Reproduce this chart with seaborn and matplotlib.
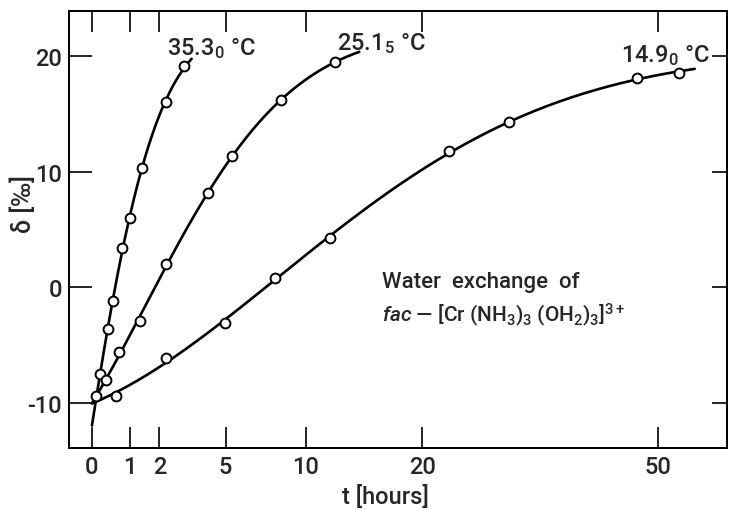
import numpy as np
import pandas as pd
import matplotlib
matplotlib.use("Agg")
import matplotlib.pyplot as plt
import seaborn as sns

# ---- data ----
t_353 = [0.09, 0.19, 0.38, 0.50, 0.75, 0.99, 1.38, 2.25, 2.99]
d_353 = [-9.4, -7.5, -3.6, -1.2, 3.4, 6.0, 10.3, 16.0, 19.1]
t_251 = [0.34, 0.68, 1.31, 2.25, 4.11, 5.35, 8.33, 12.24]
d_251 = [-8.0, -5.6, -2.9, 2.0, 8.2, 11.4, 16.2, 19.5]
t_149 = [0.58, 2.27, 4.99, 7.94, 11.85, 22.7, 29.55, 46.7, 53.2]
d_149 = [-9.4, -6.1, -3.1, 0.8, 4.3, 11.8, 14.3, 18.1, 18.5]
series_names = ["35.3", "25.1", "14.9"]
curve_start_t = [0.0, 0.0, 0.0]
curve_start_d = [-12.0, -10.0, -10.0]
curve_end_t = [3.33, 14.2, 55.8]
x_ticks = [0, 1, 2, 5, 10, 20, 50]
y_ticks = [-10, 0, 10, 20]

sns.set_theme(style="ticks")
plt.rcParams["font.family"] = ["Roboto", "DejaVu Sans"]
plt.rcParams["font.weight"] = "medium"
plt.rcParams["mathtext.fontset"] = "custom"
plt.rcParams["mathtext.rm"] = "Roboto:medium"
plt.rcParams["mathtext.it"] = "Roboto:italic"
plt.rcParams["mathtext.bf"] = "Roboto:bold"


def fwd(t):
    return np.sqrt(np.clip(np.asarray(t, dtype=float) + 1.0, 0.0, None))


def inv(u):
    return np.asarray(u, dtype=float) ** 2 - 1.0


fig = plt.figure(figsize=(7.29, 5.10), dpi=100)
ax = fig.add_axes([69 / 729, 1 - 449 / 510, (727 - 69) / 729, (449 - 12) / 510])
ax.set_xscale("function", functions=(fwd, inv))
ax.set_xlim(-0.436, 61.2)
ax.set_ylim(-13.9, 23.9)

pts = pd.concat([
    pd.DataFrame({"t": t_353, "d": d_353, "s": series_names[0]}),
    pd.DataFrame({"t": t_251, "d": d_251, "s": series_names[1]}),
    pd.DataFrame({"t": t_149, "d": d_149, "s": series_names[2]}),
], ignore_index=True)

# first-order exchange fit  d = a - b*exp(-k t), anchored at the start point
curves = []
for name, t0, d0, t1 in zip(series_names, curve_start_t, curve_start_d, curve_end_t):
    sub = pts[pts["s"] == name]
    tt = np.concatenate([[t0] * 3, sub["t"].values])
    dd = np.concatenate([[d0] * 3, sub["d"].values])
    best = None
    for k in np.linspace(0.005, 3.0, 3000):
        A = np.column_stack([np.ones_like(tt), np.exp(-k * tt)])
        coef, *_ = np.linalg.lstsq(A, dd, rcond=None)
        err = np.sum((A @ coef - dd) ** 2)
        if best is None or err < best[0]:
            best = (err, k, coef)
    _, k, coef = best
    uu = np.linspace(fwd(t0), fwd(t1), 200)
    tc = inv(uu)
    curves.append(pd.DataFrame({"t": tc, "d": coef[0] + coef[1] * np.exp(-k * tc), "s": name}))
curves = pd.concat(curves, ignore_index=True)

sns.lineplot(data=curves, x="t", y="d", units="s", estimator=None, sort=False,
             color="black", lw=1.9, ax=ax, legend=False)
sns.scatterplot(data=pts, x="t", y="d", marker="o", s=50, color="white",
                edgecolor="black", linewidth=1.4, ax=ax, legend=False, zorder=5)

ax.set_xticks(x_ticks)
ax.set_xticklabels([str(v) for v in x_ticks])
ax.set_yticks(y_ticks)
ax.set_yticklabels([str(v) for v in y_ticks])
ax.minorticks_off()
ax.tick_params(axis="x", direction="in", length=15, width=1.2, top=True, bottom=True,
               labelsize=17, pad=5, color="black")
ax.tick_params(axis="y", direction="in", length=16.5, width=1.2, left=True, right=False,
               labelsize=17, pad=5, color="black")
ax2 = ax.twinx()
ax2.set_ylim(ax.get_ylim())
ax2.set_yticks(y_ticks)
ax2.tick_params(axis="y", direction="in", length=11, width=1.2, labelright=False, color="black")
for a in (ax, ax2):
    for sp in a.spines.values():
        sp.set_linewidth(1.4)
        sp.set_color("black")
        sp.set_visible(True)

ax.set_xlabel("t [hours]", fontsize=17, fontweight="medium")
ax.set_ylabel("δ [‰]", fontsize=18, fontweight="medium")
ax.xaxis.set_label_coords(0.481, -0.082)
ax.yaxis.set_label_coords(-0.05, 0.56)

ax.text(0.149, 0.902, "35.3$_0$ °C", transform=ax.transAxes, fontsize=17, ha="left", va="baseline")
ax.text(0.408, 0.913, "25.1$_5$ °C", transform=ax.transAxes, fontsize=17, ha="left", va="baseline")
ax.text(0.839, 0.886, "14.9$_0$ °C", transform=ax.transAxes, fontsize=17, ha="left", va="baseline")
ax.text(0.475, 0.382, "Water  exchange  of", transform=ax.transAxes, fontsize=16, ha="left", va="center")
ax.text(0.475, 0.307, r"$\mathit{fac}$ — [Cr (NH$_3$)$_3$ (OH$_2$)$_3$]$^{3+}$",
        transform=ax.transAxes, fontsize=15, ha="left", va="center")

fig.savefig("out.png", dpi=100)
